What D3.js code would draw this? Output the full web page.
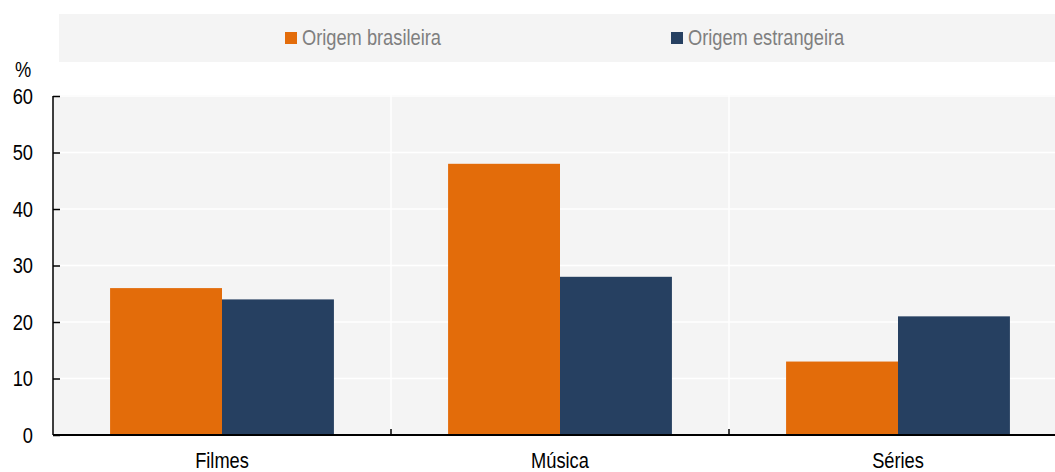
<!DOCTYPE html>
<html><head><meta charset="utf-8">
<script src="https://cdn.jsdelivr.net/npm/d3@7"></script>
<style>
body{margin:0;background:#fff;}
text{font-family:"Liberation Sans",Arial,sans-serif;}
</style></head>
<body><svg id="c" width="1055" height="472"></svg>
<script>
const categories = ["Filmes", "Música", "Séries"];
const seriesNames = ["Origem brasileira", "Origem estrangeira"];
const brasileira = [26, 48, 13];
const estrangeira = [24, 28, 21];
const yTicks = [0, 10, 20, 30, 40, 50, 60];
const colors = ["#e36c0a", "#264061"];

(function(){
const svg = d3.select("#c");
const SX = 0.83;
const pL = 53, pR = 1067, pT = 96, pB = 435;
const x = d3.scaleBand().domain(categories).range([pL, pR]);
const xi = d3.scaleBand().domain(seriesNames).range([0, x.bandwidth()]).paddingOuter(0.51);
const y = d3.scaleLinear().domain([0, 60]).range([pB, pT]);

function txt(parent, tx, ty, s, size, fill, anchor, dy) {
  return parent.append("text")
    .attr("transform", `translate(${tx},${ty}) scale(${SX},1)`)
    .attr("font-size", size).attr("fill", fill)
    .attr("text-anchor", anchor || "start").attr("dy", dy || 0).text(s);
}

// legend
svg.append("rect").attr("x", 59).attr("y", 14).attr("width", 1055 - 59).attr("height", 48).attr("fill", "#f4f4f4");
const legX = [285, 671];
seriesNames.forEach((s, i) => {
  svg.append("rect").attr("x", legX[i]).attr("y", 32).attr("width", 12).attr("height", 12).attr("fill", colors[i]);
  txt(svg, legX[i] + 17, 45, s, 22, "#7f7f7f");
});

// plot bg
svg.append("rect").attr("x", pL).attr("y", pT - 1).attr("width", pR - pL).attr("height", pB - pT + 1).attr("fill", "#f4f4f4");

// gridlines
svg.append("g").selectAll("line").data(yTicks.slice(1)).join("line")
  .attr("x1", pL).attr("x2", pR).attr("y1", d => y(d)).attr("y2", d => y(d))
  .attr("stroke", "#fff").attr("stroke-width", 1.5);
svg.append("g").selectAll("line").data(categories.slice(1)).join("line")
  .attr("x1", d => x(d)).attr("x2", d => x(d)).attr("y1", pT - 1).attr("y2", pB)
  .attr("stroke", "#fff").attr("stroke-width", 1.5);

// bars
const data = categories.map((c, i) => ({c, vals: [brasileira[i], estrangeira[i]]}));
const g = svg.append("g");
data.forEach(d => {
  d.vals.forEach((v, j) => {
    g.append("rect").attr("x", x(d.c) + xi(seriesNames[j])).attr("y", y(v))
      .attr("width", xi.bandwidth()).attr("height", y(0) - y(v)).attr("fill", colors[j]);
  });
});

// y axis
const yAxis = d3.axisRight(y).tickValues(yTicks).tickSize(7).tickFormat("");
const ya = svg.append("g").attr("transform", `translate(${pL},0)`).call(yAxis);
ya.select(".domain").attr("stroke", "#000").attr("stroke-width", 1.5).attr("d", `M0,${pT}V${pB}`);
ya.selectAll(".tick line").attr("stroke", "#000").attr("stroke-width", 1.5);
const yl = svg.append("g");
yTicks.forEach(d => txt(yl, 33, y(d), d, 22, "#000", "end", "0.36em"));
txt(svg, 23, 77, "%", 22, "#000", "middle");

// x axis
const xa = svg.append("g").attr("transform", `translate(0,${pB})`)
  .call(d3.axisTop(x).tickSize(0).tickFormat(""));
xa.select(".domain").attr("stroke", "#000").attr("stroke-width", 2).attr("d", `M${pL},0H${pR}`);
xa.append("g").selectAll("line").data(categories.slice(1)).join("line")
  .attr("x1", d => x(d)).attr("x2", d => x(d)).attr("y1", 0).attr("y2", -6)
  .attr("stroke", "#000").attr("stroke-width", 1.5);
const xl = svg.append("g");
categories.forEach(c => txt(xl, x(c) + x.bandwidth() / 2, 468, c, 22, "#000", "middle"));
})();
</script></body></html>
